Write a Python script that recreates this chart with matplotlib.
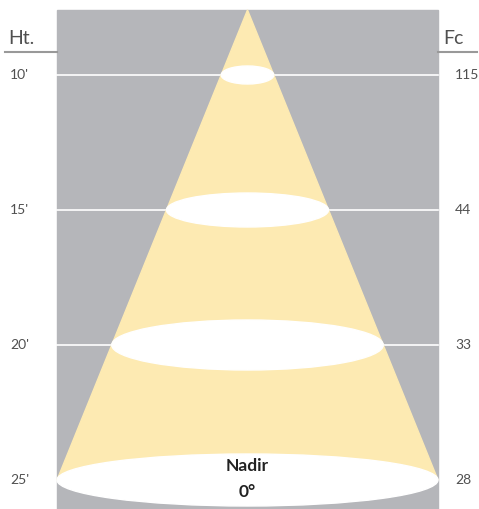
import matplotlib.pyplot as plt
from matplotlib.patches import Polygon, Ellipse, Rectangle

# data
heights = [10, 15, 20, 25]
height_labels = ["10'", "15'", "20'", "25'"]
fc_values = [115, 44, 33, 28]
spot_depth = [9, 17, 25, 26]   # half-height of each spot ellipse (px)

W, H = 479, 509
gray = '#b5b6ba'
yellow = '#fdeab2'
txt = '#505050'

# layout in pixels
left, right = 57, 438
top = 10
y0, dy = 75, 27.0          # y of 10' and px per foot
apex_x = (left + right) / 2.0


def ypos(h):
    return y0 + (h - heights[0]) * dy


fig = plt.figure(figsize=(W / 100, H / 100), dpi=100)
ax = fig.add_axes([0, 0, 1, 1])
ax.set_xlim(0, W)
ax.set_ylim(H, 0)
ax.axis('off')

ax.add_patch(Rectangle((left, top), right - left, H - top, color=gray, zorder=0))

ybase = ypos(heights[-1])
half_base = (right - left) / 2.0
ax.add_patch(Polygon([(apex_x, top), (left, ybase), (right, ybase)],
                     closed=True, color=yellow, zorder=1))

for h in heights[:-1]:
    ax.plot([left, right], [ypos(h), ypos(h)], color='white', lw=1.2, zorder=0.5)

for h, d in zip(heights, spot_depth):
    y = ypos(h)
    hw = half_base * (y - top) / (ybase - top)
    ax.add_patch(Ellipse((apex_x, y), 2 * hw, 2 * d, color='white', zorder=2))

font = 'Lato'
ax.plot([5, left], [52, 52], color='#999999', lw=1.5)
ax.plot([right, W - 2], [52, 52], color='#999999', lw=1.5)
ax.text(8, 38, 'Ht.', fontsize=14, color=txt, family=font,
        ha='left', va='center')
ax.text(443, 38, 'Fc', fontsize=14, color=txt, family=font,
        ha='left', va='center')

for h, lab, fc in zip(heights, height_labels, fc_values):
    y = ypos(h)
    ax.text(10, y, lab, fontsize=10, color=txt, family=font,
            ha='left', va='center')
    ax.text(455, y, str(fc), fontsize=10, color=txt, family=font,
            ha='left', va='center')

ax.text(apex_x, 466, 'Nadir', fontsize=12.5, color='#222222', family=font,
        weight='bold', ha='center', va='center', zorder=3)
ax.text(apex_x, 492, '0°', fontsize=12.5, color='#222222', family=font,
        weight='bold', ha='center', va='center', zorder=3)

fig.savefig('out.png', dpi=100)
